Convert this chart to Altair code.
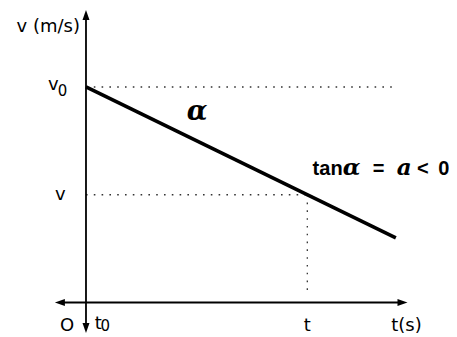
import altair as alt
import pandas as pd

# ---- values ----
t_points = [0, 7]          # t0 and end of the v(t) line
v_points = [8, 2.4]        # v0 and value at the end
t_mark = 5                 # marked time t
v_mark = 4                 # velocity v at time t
v0 = 8
t_axis_ends = [-0.59, 7.15]
v_axis_ends = [-0.95, 10.67]
v0_guide_end = 6.96
t_guide_bottom = 0.3

X = alt.Scale(domain=[-1.762, 8.201])
Y = alt.Scale(domain=[-1.206, 10.932])


def xe():
    return alt.X("t:Q", scale=X, axis=None)


def ye():
    return alt.Y("v:Q", scale=Y, axis=None)


# axes
axes_df = pd.DataFrame({
    "t": [t_axis_ends[0], 0],
    "t2": [t_axis_ends[1], 0],
    "v": [0, v_axis_ends[0]],
    "v2": [0, v_axis_ends[1]],
})
axes = alt.Chart(axes_df).mark_rule(color="black", strokeWidth=1.8).encode(
    x=xe(), x2="t2:Q", y=ye(), y2="v2:Q")

arrow_paths = {
    "up": "M-0.7,1L0.7,1L0,-1Z",
    "down": "M-0.7,-1L0.7,-1L0,1Z",
    "left": "M1,-0.7L1,0.7L-1,0Z",
    "right": "M-1,-0.7L-1,0.7L1,0Z",
}
arrows_df = pd.DataFrame({
    "t": [0, 0, t_axis_ends[0], t_axis_ends[1]],
    "v": [v_axis_ends[1], v_axis_ends[0], 0, 0],
    "dir": ["up", "down", "left", "right"],
})
arrows_df["shape"] = arrows_df["dir"].map(arrow_paths)
arrows = alt.Chart(arrows_df).mark_point(
    filled=True, color="black", opacity=1, size=100, strokeWidth=0
).encode(x=xe(), y=ye(), shape=alt.Shape("shape:N", scale=None, legend=None))

# dotted guides
guides_df = pd.DataFrame({
    "t": [0, 0, t_mark],
    "t2": [v0_guide_end, t_mark, t_mark],
    "v": [v0, v_mark, v_mark],
    "v2": [v0, v_mark, t_guide_bottom],
})
guides = alt.Chart(guides_df).mark_rule(
    color="#333333", strokeWidth=1.3, strokeDash=[1.6, 6.2]
).encode(x=xe(), x2="t2:Q", y=ye(), y2="v2:Q")

line_df = pd.DataFrame({"t": t_points, "v": v_points})
line = alt.Chart(line_df).mark_line(color="black", strokeWidth=3.6, strokeCap="butt").encode(
    x=xe(), y=ye())

# ---- text labels ----
main_labels = ["v (m/s)", "v", "v", "O", "t", "t", "t(s)"]
main_t = [-0.136, -0.86, -0.70, -0.59, 0.20, 5.0, 7.24]
main_v = [10.05, 7.89, 3.80, -1.06, -1.00, -1.06, -1.04]
main_align = ["right", "left", "left", "left", "left", "center", "center"]

sub_labels = ["0", "0"]
sub_t = [-0.64, 0.33]
sub_v = [7.67, -1.07]

tan_sans = ["tan", "=", "<", "0"]
tan_sans_t = [5.12, 6.48, 7.48, 7.96]
tan_ital = ["α", "a"]
tan_ital_t = [5.80, 7.02]
tan_v = 4.73

alpha_label = ["α"]
alpha_t = [2.51]
alpha_v = [6.77]

texts = []
main_df = pd.DataFrame({"t": main_t, "v": main_v, "text": main_labels, "al": main_align})
for al in ["left", "center", "right"]:
    sub = main_df[main_df["al"] == al]
    texts.append(alt.Chart(sub).mark_text(
        align=al, baseline="alphabetic", font="DejaVu Sans", fontSize=18, color="black"
    ).encode(x=xe(), y=ye(), text="text:N"))

sub_df = pd.DataFrame({"t": sub_t, "v": sub_v, "text": sub_labels})
texts.append(alt.Chart(sub_df).mark_text(
    align="left", baseline="alphabetic", font="DejaVu Sans", fontSize=15, color="black"
).encode(x=xe(), y=ye(), text="text:N"))

tan_sans_df = pd.DataFrame({"t": tan_sans_t, "v": [tan_v] * len(tan_sans), "text": tan_sans})
texts.append(alt.Chart(tan_sans_df).mark_text(
    align="left", baseline="alphabetic", font="Liberation Sans", fontWeight="bold",
    fontSize=20, color="black"
).encode(x=xe(), y=ye(), text="text:N"))

tan_ital_df = pd.DataFrame({"t": tan_ital_t, "v": [tan_v] * len(tan_ital), "text": tan_ital})
texts.append(alt.Chart(tan_ital_df).mark_text(
    align="left", baseline="alphabetic", font="DejaVu Serif", fontStyle="italic",
    fontWeight="bold", fontSize=23, color="black"
).encode(x=xe(), y=ye(), text="text:N"))

alpha_df = pd.DataFrame({"t": alpha_t, "v": alpha_v, "text": alpha_label})
texts.append(alt.Chart(alpha_df).mark_text(
    align="center", baseline="alphabetic", font="DejaVu Serif", fontStyle="italic",
    fontWeight="bold", fontSize=27, color="black"
).encode(x=xe(), y=ye(), text="text:N"))

chart = alt.layer(guides, axes, arrows, line, *texts).properties(
    width=441, height=327, padding=0, autosize="none"
).configure_view(stroke=None)

chart.save("out.html", embed_options={"renderer": "svg", "actions": False})
